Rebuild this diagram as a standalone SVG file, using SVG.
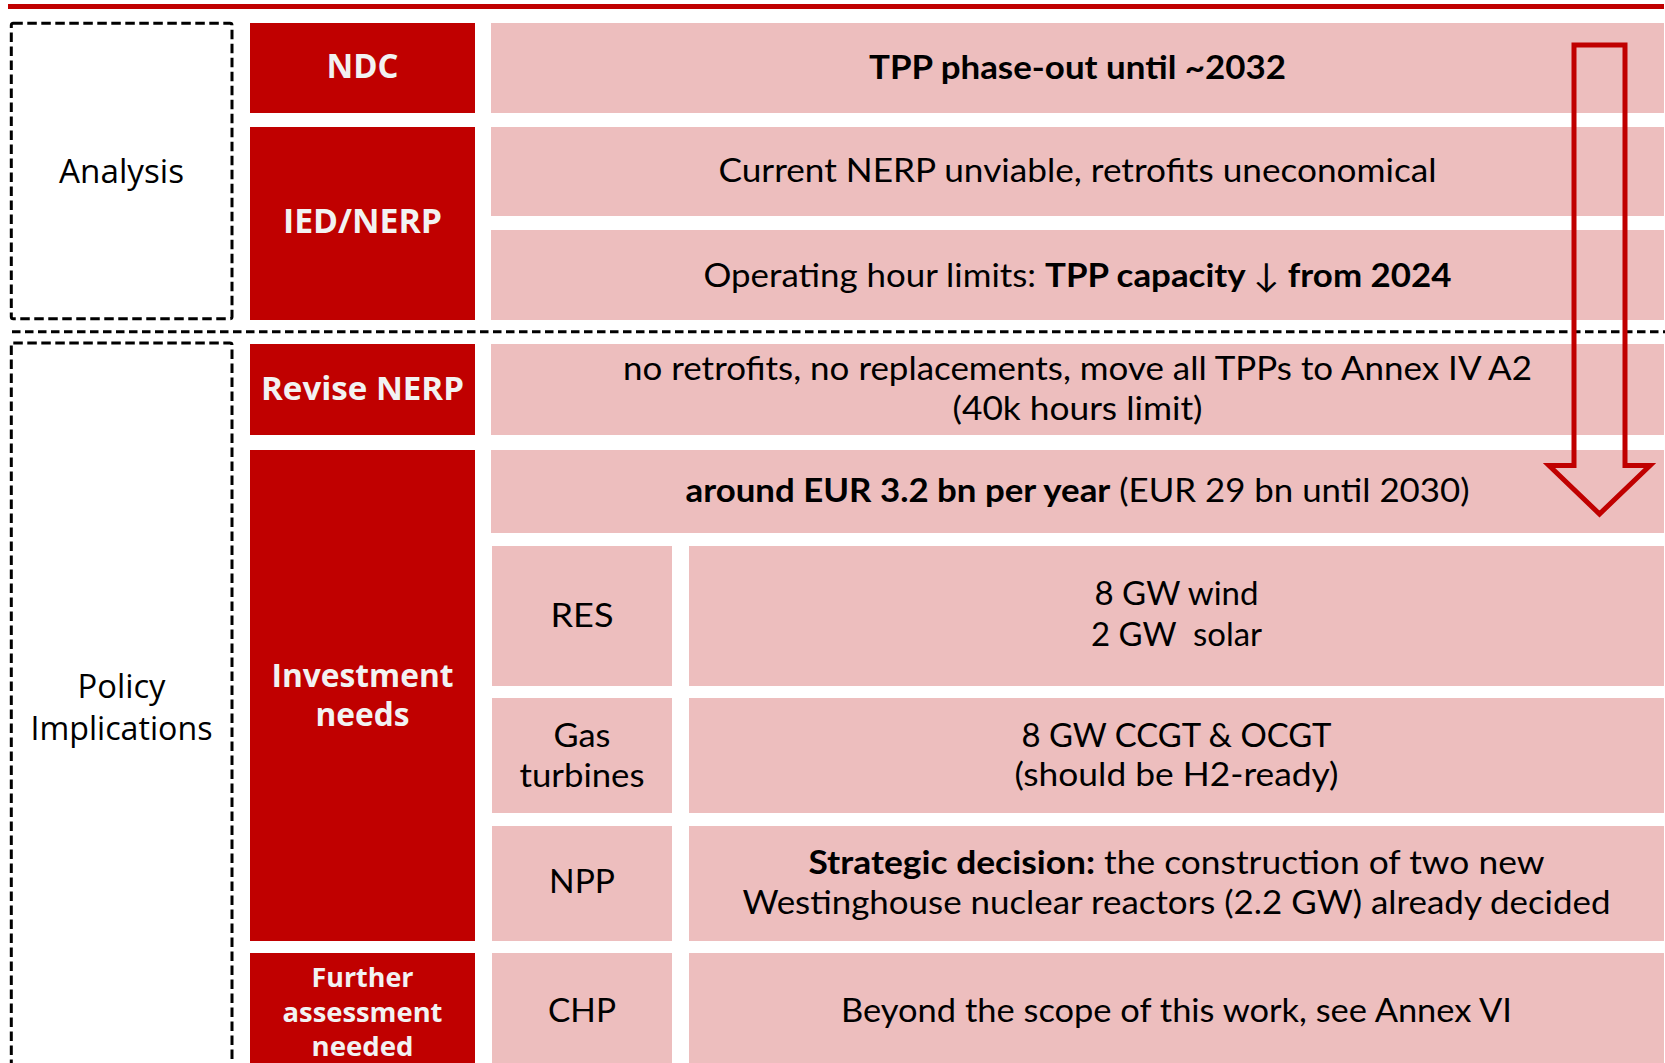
<svg xmlns="http://www.w3.org/2000/svg" width="1665" height="1063" viewBox="0 0 1665 1063">
  <style>
    .red { fill: #C00000; }
    .pink { fill: #EDBEBE; }
    .frame { fill: none; stroke: #000; stroke-width: 3; stroke-dasharray: 9.5 4.5; }
    .sep { fill: none; stroke: #000; stroke-width: 3; stroke-dasharray: 8.5 4.5; }
    .hd { font-family: "Open Sans", "Liberation Sans", sans-serif; font-weight: 700; fill: #F2F2F2; text-anchor: middle; }
    .side { font-family: "Open Sans", "Liberation Sans", sans-serif; font-size: 33px; fill: #000; text-anchor: middle; }
    .tx { font-family: Lato, "Open Sans", "DejaVu Sans", sans-serif; font-size: 33px; fill: #000; text-anchor: middle; }
    .b { font-weight: 700; }
    .n { font-weight: 400; }
    .arrow { fill: none; stroke: #C00000; stroke-width: 5; stroke-linejoin: miter; }
  </style>

  <!-- top rule -->
  <rect x="8" y="4" width="1656" height="5" class="red"/>

  <!-- section frames -->
  <g id="analysis">
    <rect x="11.3" y="23.3" width="220.7" height="295.4" rx="2" class="frame"/>
    <text class="side" x="121.5" y="183.3" textLength="125" lengthAdjust="spacingAndGlyphs">Analysis</text>
  </g>
  <g id="policy">
    <rect x="11.3" y="343" width="220.7" height="740" rx="2" class="frame"/>
    <text class="side" x="121.5" y="697.7" textLength="88" lengthAdjust="spacingAndGlyphs">Policy</text>
    <text class="side" x="121.5" y="740" textLength="182" lengthAdjust="spacingAndGlyphs">Implications</text>
  </g>
  <line x1="12" y1="331.7" x2="1665" y2="331.7" class="sep"/>

  <!-- category labels -->
  <g id="ndc">
    <rect x="250" y="23" width="225" height="90" class="red"/>
    <text class="hd" x="362.5" y="78.3" font-size="34" textLength="72" lengthAdjust="spacingAndGlyphs">NDC</text>
  </g>
  <g id="ied-nerp">
    <rect x="250" y="127" width="225" height="193" class="red"/>
    <text class="hd" x="362.5" y="233.3" font-size="34" textLength="159" lengthAdjust="spacingAndGlyphs">IED/NERP</text>
  </g>
  <g id="revise-nerp">
    <rect x="250" y="344" width="225" height="91" class="red"/>
    <text class="hd" x="362.5" y="400.3" font-size="32" textLength="203" lengthAdjust="spacingAndGlyphs">Revise NERP</text>
  </g>
  <g id="investment-needs">
    <rect x="250" y="450" width="225" height="491" class="red"/>
    <text class="hd" x="362.5" y="687" font-size="32" textLength="182" lengthAdjust="spacingAndGlyphs">Investment</text>
    <text class="hd" x="362.5" y="726" font-size="32" textLength="94" lengthAdjust="spacingAndGlyphs">needs</text>
  </g>
  <g id="further-assessment">
    <rect x="250" y="953" width="225" height="130" class="red"/>
    <text class="hd" x="362.5" y="986.5" font-size="27" textLength="102" lengthAdjust="spacingAndGlyphs">Further</text>
    <text class="hd" x="362.5" y="1021.6" font-size="27" textLength="160" lengthAdjust="spacingAndGlyphs">assessment</text>
    <text class="hd" x="362.5" y="1055.5" font-size="27" textLength="102" lengthAdjust="spacingAndGlyphs">needed</text>
  </g>

  <!-- analysis findings -->
  <g id="phase-out">
    <rect x="491" y="23" width="1173" height="90" class="pink"/>
    <text class="tx b" x="1077.5" y="78.5" textLength="417" lengthAdjust="spacingAndGlyphs">TPP phase-out until ~2032</text>
  </g>
  <g id="nerp-unviable">
    <rect x="491" y="127" width="1173" height="89" class="pink"/>
    <text class="tx" x="1077.5" y="181.5" textLength="718" lengthAdjust="spacingAndGlyphs">Current NERP unviable, retrofits uneconomical</text>
  </g>
  <g id="hour-limits">
    <rect x="491" y="230" width="1173" height="90" class="pink"/>
    <text class="tx" x="1077.5" y="286.5" textLength="748" lengthAdjust="spacingAndGlyphs">Operating hour limits: <tspan class="b">TPP capacity </tspan><tspan class="n">↓</tspan><tspan class="b"> from 2024</tspan></text>
  </g>

  <!-- policy implications -->
  <g id="nerp-revision">
    <rect x="491" y="344" width="1173" height="91" class="pink"/>
    <text class="tx" x="1077.5" y="380" textLength="909" lengthAdjust="spacingAndGlyphs">no retrofits, no replacements, move all TPPs to Annex IV A2</text>
    <text class="tx" x="1077.5" y="419.5" textLength="250" lengthAdjust="spacingAndGlyphs">(40k hours limit)</text>
  </g>
  <g id="investment-total">
    <rect x="491" y="450" width="1173" height="83" class="pink"/>
    <text class="tx" x="1077.5" y="501.7" textLength="784" lengthAdjust="spacingAndGlyphs"><tspan class="b">around EUR 3.2 bn per year</tspan> (EUR 29 bn until 2030)</text>
  </g>

  <g id="res">
    <rect x="492" y="546" width="180" height="140" class="pink"/>
    <text class="tx" x="582" y="626.5" textLength="63" lengthAdjust="spacingAndGlyphs">RES</text>
    <rect x="689" y="546" width="975" height="140" class="pink"/>
    <text class="tx" x="1176.5" y="605" textLength="164" lengthAdjust="spacingAndGlyphs">8 GW wind</text>
    <text class="tx" x="1176.5" y="645.5" textLength="171" lengthAdjust="spacingAndGlyphs">2 GW&#160; solar</text>
  </g>
  <g id="gas">
    <rect x="492" y="698" width="180" height="115" class="pink"/>
    <text class="tx" x="582" y="747.3" textLength="57" lengthAdjust="spacingAndGlyphs">Gas</text>
    <text class="tx" x="582" y="786.7" textLength="125" lengthAdjust="spacingAndGlyphs">turbines</text>
    <rect x="689" y="698" width="975" height="115" class="pink"/>
    <text class="tx" x="1176.5" y="746.5" textLength="310" lengthAdjust="spacingAndGlyphs">8 GW CCGT &amp; OCGT</text>
    <text class="tx" x="1176.5" y="786" textLength="324" lengthAdjust="spacingAndGlyphs">(should be H2-ready)</text>
  </g>
  <g id="npp">
    <rect x="492" y="826" width="180" height="115" class="pink"/>
    <text class="tx" x="582" y="893.3" textLength="66" lengthAdjust="spacingAndGlyphs">NPP</text>
    <rect x="689" y="826" width="975" height="115" class="pink"/>
    <text class="tx" x="1176.5" y="874" textLength="736" lengthAdjust="spacingAndGlyphs"><tspan class="b">Strategic decision:</tspan> the construction of two new</text>
    <text class="tx" x="1176.5" y="914" textLength="868" lengthAdjust="spacingAndGlyphs">Westinghouse nuclear reactors (2.2 GW) already decided</text>
  </g>
  <g id="chp">
    <rect x="492" y="953" width="180" height="130" class="pink"/>
    <text class="tx" x="582" y="1021.7" textLength="68" lengthAdjust="spacingAndGlyphs">CHP</text>
    <rect x="689" y="953" width="975" height="130" class="pink"/>
    <text class="tx" x="1176.5" y="1022" textLength="671" lengthAdjust="spacingAndGlyphs">Beyond the scope of this work, see Annex VI</text>
  </g>

  <!-- downward flow arrow -->
  <g id="connectors">
    <path class="arrow" d="M1574,45 H1625 V465.5 H1650 L1599.5,514 L1549,465.5 H1574 Z"/>
  </g>
</svg>
